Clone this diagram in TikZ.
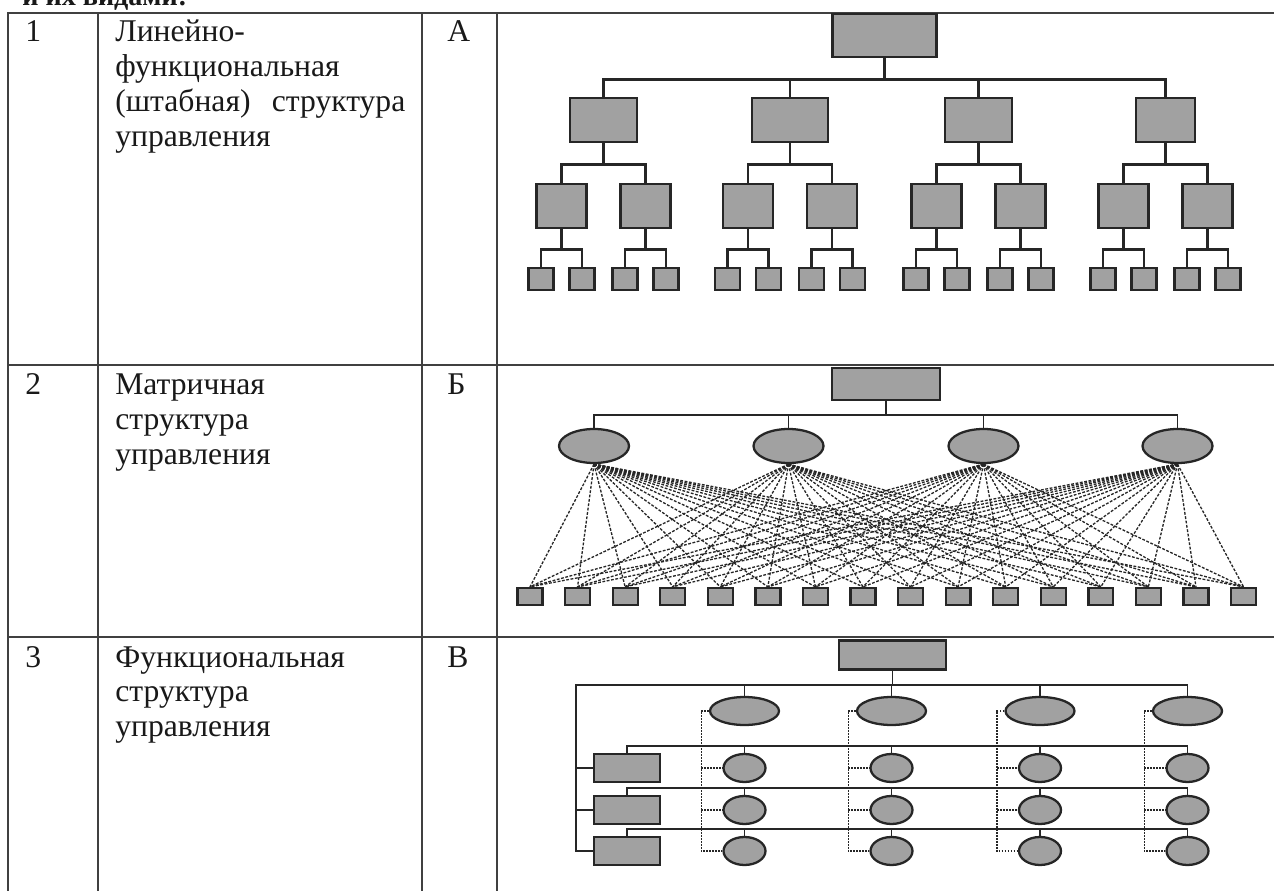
\documentclass[tikz,border=0pt]{standalone}
\usepackage{fontspec}
\setmainfont{Liberation Serif}
\usetikzlibrary{shapes.geometric}
\begin{document}
\begin{tikzpicture}[x=0.02cm, y=-0.02cm,
  grid/.style={line width=0.9pt, black!75},
  txt/.style={anchor=base west, inner sep=0pt, text=black!90,
    font=\fontsize{18}{19.9}\selectfont},
  box/.style={draw=black!85, fill=black!37, line width=1.6pt, inner sep=0pt},
  oval/.style={box, ellipse},
  wire/.style={black!85, line width=1.3pt},
  matrixline/.style={black!85, line width=0.75pt, dash pattern=on 1.6pt off 0.9pt},
  dotline/.style={black!85, line width=0.9pt, dash pattern=on 1pt off 0.7pt}]
\useasboundingbox (0,0) rectangle (1274,891);
% table
\node[txt, font=\bfseries\fontsize{16}{19.9}\selectfont] (head) at (22,6) {и их видами:};
\draw[grid] (8,891) -- (8,13) -- (1274,13);
\foreach \x in {98,422,497} \draw[grid] (\x,13) -- (\x,891);
\foreach \y in {365,637} \draw[grid] (8,\y) -- (1274,\y);
\node[txt] (n1) at (25,42) {1};
\node[txt] (n2) at (25,395) {2};
\node[txt] (n3) at (25,667) {3};
\node[txt, text width=5.8cm, align=left] (t1) at (115,42)
  {Линейно-\\функциональная\\(штабная)\hfill структура\\управления};
\node[txt, text width=5.8cm, align=left] (t2) at (115,395) {Матричная\\структура\\управления};
\node[txt, text width=5.8cm, align=left] (t3) at (115,667) {Функциональная\\структура\\управления};
\node[txt] (l1) at (447,42) {А};
\node[txt] (l2) at (447,395) {Б};
\node[txt] (l3) at (447,667) {В};
% A: linear-staff tree
\node[box, minimum width=2.08cm, minimum height=0.86cm] (a0) at (884.5,35.5) {};
\foreach \x/\w [count=\i] in {603.5/67,790/76,978.5/67,1165.5/59}{
  \node[box, minimum width=\w*0.02cm, minimum height=0.88cm] (a\i) at (\x,120) {};
  \draw[wire] (a0.south) -- ++(0,21) -| (a\i.north);
  \foreach \s [count=\j] in {-42,42}{
    \node[box, minimum width=1cm, minimum height=0.88cm] (a\i\j) at (\x+\s,206) {};
    \draw[wire] (a\i.south) -- ++(0,21) -| (a\i\j.north);
    \foreach \t [count=\k] in {-20.5,20.5}{
      \node[box, minimum width=0.5cm, minimum height=0.44cm] (a\i\j\k) at (\x+\s+\t,279) {};
      \draw[wire] (a\i\j.south) -- ++(0,20) -| (a\i\j\k.north);
    }
  }
}
% B: matrix
\node[box, line width=1.3pt, minimum width=2.16cm, minimum height=0.64cm] (b0) at (886,384) {};
\foreach \k in {0,...,15}
  \node[box, line width=1.3pt, minimum width=0.5cm, minimum height=0.34cm] (s\k) at (530+47.57*\k,596.5) {};
\foreach \x [count=\i] in {594,788.5,983.5,1177.5}{
  \node[oval, line width=1.3pt, minimum width=1.4cm, minimum height=0.68cm] (b\i) at (\x,446) {};
  \draw[wire, line width=1pt] (b0.south) -- ++(0,14) -| (b\i.north);
  \foreach \k in {0,...,15} \draw[matrixline] (b\i.south) -- (s\k.north);
}
% C: functional
\node[box, line width=1.3pt, minimum width=2.14cm, minimum height=0.58cm] (c0) at (892.5,655) {};
\foreach \y [count=\j] in {768,810,851}
  \node[box, line width=1.3pt, minimum width=1.33cm, minimum height=0.56cm] (f\j) at (627,\y) {};
\coordinate (cbend) at (576,851);
\draw[wire, line width=1pt] (c0.south) -- ++(0,14) -| (cbend) -- (f3.west);
\draw[wire, line width=1pt] (f1.west) -- (f1.west -| cbend);
\draw[wire, line width=1pt] (f2.west) -- (f2.west -| cbend);
\foreach \x [count=\i] in {744.5,891.5,1040,1187.5}{
  \node[oval, line width=1.3pt, minimum width=1.38cm, minimum height=0.56cm] (e\i) at (\x,711) {};
  \draw[wire, line width=1pt] (c0.south) -- ++(0,14) -| (e\i.north);
  \coordinate (d\i) at ([xshift=-0.15cm]e\i.west);
  \foreach \y [count=\j] in {768,810,851}{
    \node[oval, line width=1.3pt, minimum width=0.84cm, minimum height=0.56cm] (g\i\j) at (\x,\y) {};
    \draw[wire, line width=1pt] (f\j.north) -- ++(0,-7) -| (g\i\j.north);
  }
  \draw[dotline] (e\i.west) -- (d\i) |- (g\i3.west);
  \draw[dotline] (d\i |- g\i1.west) -- (g\i1.west);
  \draw[dotline] (d\i |- g\i2.west) -- (g\i2.west);
}
\end{tikzpicture}
\end{document}
